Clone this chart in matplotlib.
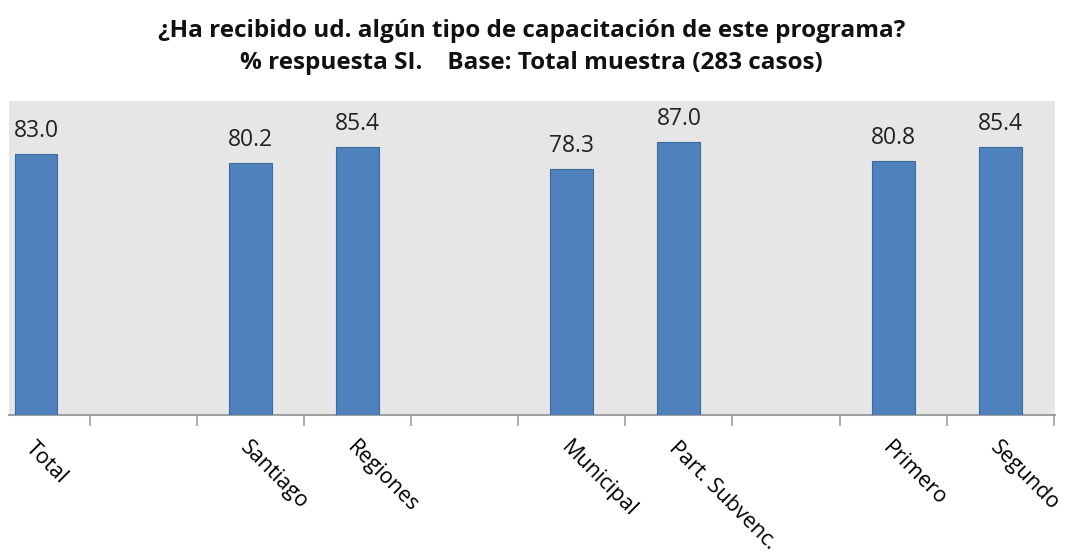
import numpy as np
import matplotlib
matplotlib.use('Agg')
import matplotlib.pyplot as plt

# Data (gaps between groups are empty slots)
categories = ['Total', '', 'Santiago', 'Regiones', '', 'Municipal', 'Part. Subvenc.', '', 'Primero', 'Segundo']
values = [83.0, np.nan, 80.2, 85.4, np.nan, 78.3, 87.0, np.nan, 80.8, 85.4]
title = '¿Ha recibido ud. algún tipo de capacitación de este programa?\n% respuesta SI.    Base: Total muestra (283 casos)'

plt.rcParams['font.family'] = ['Open Sans', 'DejaVu Sans']

bar_color = '#4F81BD'
edge_color = '#3B6A9E'
bg_color = '#E6E6E6'

fig = plt.figure(figsize=(10.74, 5.52), dpi=100)
ax = fig.add_axes([0.0084, 0.248, 0.9739, 0.569])
ax.set_facecolor(bg_color)

x = np.arange(len(categories))
vals = np.array(values, dtype=float)
mask = ~np.isnan(vals)
ax.bar(x[mask], vals[mask], width=0.4, color=bar_color, edgecolor=edge_color, linewidth=0.8, zorder=3)

# Value labels above each bar
for xi, v in zip(x[mask], vals[mask]):
  ax.annotate('{:.1f}'.format(v), (xi, v), xytext=(0, 8), textcoords='offset points',
              ha='center', va='bottom', fontsize=16.5, color='#222222')

ax.set_xlim(-0.252, 9.51)
ax.set_ylim(0, 100)

# Category labels at centres, tick marks at slot boundaries
ax.set_xticks(x)
ax.set_xticklabels(categories, rotation=-45, ha='left', va='top', rotation_mode='anchor', fontsize=15.5)
ax.tick_params(axis='x', which='major', length=0, pad=16)
ax.set_xticks(np.arange(0.5, len(categories), 1.0), minor=True)
ax.tick_params(axis='x', which='minor', length=8, color='#A0A0A0', width=1.2)
ax.set_yticks([])

for side in ['top', 'right', 'left']:
  ax.spines[side].set_visible(False)
ax.spines['bottom'].set_color('#A0A0A0')
ax.spines['bottom'].set_linewidth(1.5)

fig.text(0.495, 0.915, title, ha='center', va='center', fontsize=17.5, fontweight='bold',
         linespacing=1.45, color='#111111')

fig.savefig('out.png', dpi=100)
